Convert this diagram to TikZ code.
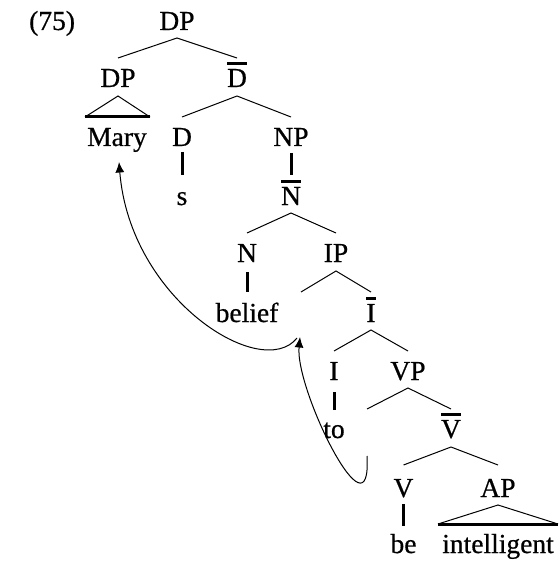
\documentclass[tikz,border=0pt]{standalone}
\usepackage{fontspec}
\setmainfont[FakeBold=0.6]{Liberation Serif}
\usetikzlibrary{arrows.meta}
\newsavebox\mybarbox
\newcommand\barred[1]{\sbox\mybarbox{#1}\rlap{\rule[\dimexpr\ht\mybarbox+4pt\relax]{\wd\mybarbox}{3pt}}\usebox\mybarbox}
\begin{document}
\begin{tikzpicture}[x=1pt,y=-1pt,
  every node/.style={inner sep=0pt,anchor=base,font=\fontsize{27.5}{32}\selectfont},
  branch/.style={line width=1pt},
  unary/.style={line width=3pt},
  tribase/.style={line width=3pt},
  arr/.style={line width=1pt,-{Latex[length=10.5pt,width=9pt]}}]
\useasboundingbox (0,0) rectangle (559,564);
\node (ex) [anchor=base west] at (29,30) {(75)};
\node (DP0) at (177,30) {DP};
\node (DP1) at (118,87) {DP};
\node (D1) at (237,87) {\barred{D}};
\node (Mary) at (117,146) {Mary};
\node (D) at (182,146) {D};
\node (NP) at (291,146) {NP};
\node (s) at (182,205) {s};
\node (N1) at (291,205) {\barred{N}};
\node (N) at (247,262) {N};
\node (IP) at (336,262) {IP};
\node (belief) at (247,322) {belief};
\coordinate (tIP) at (301,322);
\node (I1) at (371,322) {\barred{I}};
\node (I) at (334,380) {I};
\node (VP) at (408,380) {VP};
\node (to) at (334,438) {to};
\coordinate (tVP) at (367,438);
\node (V1) at (451,438) {\barred{V}};
\node (V) at (403.5,497) {V};
\node (AP) at (498,497) {AP};
\node (be) at (403.5,553) {be};
\node (intel) at (498,553) {intelligent};
% branches
\draw[branch] ([yshift=29pt]DP1.base) -- ([yshift=-8pt]DP0.base) -- ([yshift=29pt]D1.base);
\draw[branch] ([yshift=29pt]D.base) -- ([yshift=-9pt]D1.base) -- ([yshift=29pt]NP.base);
\draw[branch] ([yshift=29pt]N.base) -- ([yshift=-8pt]N1.base) -- ([yshift=29pt]IP.base);
\draw[branch] ([yshift=30pt]tIP) -- ([yshift=-9pt]IP.base) -- ([yshift=30pt]I1.base);
\draw[branch] ([yshift=29pt]I.base) -- ([yshift=-8pt]I1.base) -- ([yshift=29pt]VP.base);
\draw[branch] ([yshift=29pt]tVP) -- ([yshift=-8pt]VP.base) -- ([yshift=29pt]V1.base);
\draw[branch] ([yshift=32pt]V.base) -- ([yshift=-9pt]V1.base) -- ([yshift=32pt]AP.base);
% unary
\draw[unary] ([yshift=-6pt]D.base) -- ([yshift=30pt]s.base);
\draw[unary] ([yshift=-7pt]NP.base) -- ([yshift=30pt]N1.base);
\draw[unary] ([yshift=-10pt]N.base) -- ([yshift=30pt]belief.base);
\draw[unary] ([yshift=-12pt]I.base) -- ([yshift=28pt]to.base);
\draw[unary] ([yshift=-7pt]V.base) -- ([yshift=27pt]be.base);
% triangles
\draw[branch] ([xshift=-32pt,yshift=29pt]Mary.base) -- ([yshift=-9pt]DP1.base) -- ([xshift=33pt,yshift=29pt]Mary.base);
\draw[tribase] ([xshift=-32pt,yshift=29pt]Mary.base) -- ([xshift=33pt,yshift=29pt]Mary.base);
\draw[branch] ([xshift=-60pt,yshift=29pt]intel.base) -- ([yshift=-8pt]AP.base) -- ([xshift=60pt,yshift=29pt]intel.base);
\draw[tribase] ([xshift=-60pt,yshift=29pt]intel.base) -- ([xshift=60pt,yshift=29pt]intel.base);
% movement arrows
\draw[arr] ([xshift=-4pt,yshift=-16pt]tIP) .. controls (262,382) and (130,300) .. ([xshift=2pt,yshift=-16pt]Mary.base);
\draw[arr] ([yshift=-18pt]tVP) .. controls (372,545) and (295,390) .. ([xshift=-1pt,yshift=-15pt]tIP);
\end{tikzpicture}
\end{document}
